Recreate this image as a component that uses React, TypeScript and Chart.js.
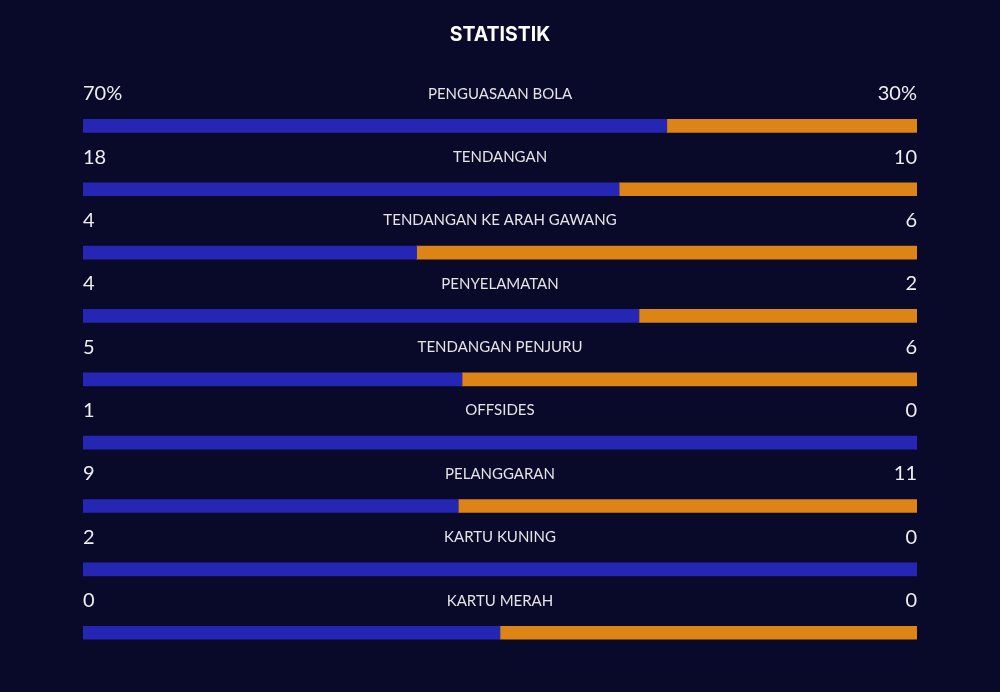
import React, { useEffect, useRef } from "react";
import { Chart, registerables } from "chart.js";

Chart.register(...registerables);

const titleText = "STATISTIK";
const categories = [
  "PENGUASAAN BOLA",
  "TENDANGAN",
  "TENDANGAN KE ARAH GAWANG",
  "PENYELAMATAN",
  "TENDANGAN PENJURU",
  "OFFSIDES",
  "PELANGGARAN",
  "KARTU KUNING",
  "KARTU MERAH",
];
const homeValues = [70, 18, 4, 4, 5, 1, 9, 2, 0];
const awayValues = [30, 10, 6, 2, 6, 0, 11, 0, 0];
const valueSuffix = ["%", "", "", "", "", "", "", "", ""];

const BG = "#09092a";
const BLUE = "#2626b4";
const ORANGE = "#dc8415";

const homeShare = homeValues.map((h, i) => {
  const t = h + awayValues[i];
  return t === 0 ? 0.5 : h / t;
});
const awayShare = homeShare.map((s) => 1 - s);

export default function App() {
  const ref = useRef<HTMLCanvasElement | null>(null);

  useEffect(() => {
    if (!ref.current) return;
    const textPlugin = {
      id: "statText",
      beforeDraw(chart: any) {
        const { ctx, width, height } = chart;
        ctx.save();
        ctx.fillStyle = BG;
        ctx.fillRect(0, 0, width, height);
        ctx.restore();
      },
      afterDatasetsDraw(chart: any) {
        const { ctx, chartArea } = chart;
        const meta = chart.getDatasetMeta(0);
        ctx.save();
        // title
        ctx.fillStyle = "#ffffff";
        ctx.textAlign = "center";
        ctx.textBaseline = "middle";
        ctx.font = "700 19.5px Inter";
        ctx.fillText(titleText, chart.width / 2, 35);
        categories.forEach((cat, i) => {
          const bar = meta.data[i];
          const y = bar.y - 32;
          ctx.fillStyle = "#eeeeee";
          ctx.font = "400 20px Lato";
          ctx.textAlign = "left";
          ctx.fillText(String(homeValues[i]) + valueSuffix[i], chartArea.left, y);
          ctx.textAlign = "right";
          ctx.fillText(String(awayValues[i]) + valueSuffix[i], chartArea.right, y);
          ctx.font = "400 15px Lato";
          ctx.textAlign = "center";
          ctx.fillStyle = "#e4e4e4";
          ctx.fillText(cat, (chartArea.left + chartArea.right) / 2, y);
        });
        ctx.restore();
      },
    };

    const chart = new Chart(ref.current, {
      type: "bar",
      data: {
        labels: categories,
        datasets: [
          { label: "Home", data: homeShare, backgroundColor: BLUE, barThickness: 13, borderWidth: 0 },
          { label: "Away", data: awayShare, backgroundColor: ORANGE, barThickness: 13, borderWidth: 0 },
        ],
      },
      options: {
        indexAxis: "y",
        animation: false,
        responsive: true,
        maintainAspectRatio: false,
        layout: { padding: { left: 83, right: 83, top: 94.2, bottom: 27.6 } },
        plugins: {
          legend: { display: false },
          tooltip: { enabled: false },
          title: { display: false },
        },
        scales: {
          x: { stacked: true, min: 0, max: 1, display: false },
          y: { stacked: true, display: false },
        },
      },
      plugins: [textPlugin],
    });
    return () => chart.destroy();
  }, []);

  return (
    <div style={{ position: "fixed", left: 0, top: 0, width: 1000, height: 692, background: BG }}>
      <canvas ref={ref} />
    </div>
  );
}
